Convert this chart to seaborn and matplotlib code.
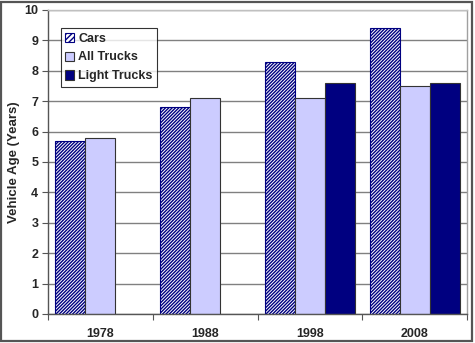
import matplotlib
matplotlib.use("Agg")
import matplotlib.pyplot as plt
from matplotlib.patches import Rectangle, Patch
import numpy as np
import pandas as pd
import seaborn as sns

years = ["1978", "1988", "1998", "2008"]
series = ["Cars", "All Trucks", "Light Trucks"]
cars = [5.7, 6.8, 8.3, 9.4]
all_trucks = [5.8, 7.1, 7.1, 7.5]
light_trucks = [np.nan, np.nan, 7.6, 7.6]
y_ticks = [0, 1, 2, 3, 4, 5, 6, 7, 8, 9, 10]

df = pd.DataFrame({
    "Year": years * 3,
    "Series": [s for s in series for _ in years],
    "Age": cars + all_trucks + light_trucks,
})

sns.set_style("white")
plt.rcParams["font.family"] = ["Liberation Sans", "DejaVu Sans"]
plt.rcParams["font.weight"] = "bold"
plt.rcParams["hatch.linewidth"] = 1.0

fig = plt.figure(figsize=(4.75, 3.43), dpi=100)
ax = fig.add_axes([48 / 475, 1 - 314 / 343, (467 - 48) / 475, (314 - 10) / 343])

face = {"Cars": "white", "All Trucks": "#CCCCFF", "Light Trucks": "#000080"}
sns.barplot(data=df, x="Year", y="Age", hue="Series", order=years,
            hue_order=series, palette=face, width=0.86, saturation=1,
            edgecolor="#333333", linewidth=0.8, legend=False, ax=ax)

# the first container holds the Cars bars: dense diagonal navy hatching
hatch = "/" * 10
for bar in ax.containers[0]:
    bar.set_hatch(hatch)
    try:
        bar.set_hatchcolor("#000080")
    except AttributeError:
        bar.set_edgecolor("#000080")

ax.set_ylim(0, 10)
ax.set_xlim(-0.5, 3.5)
ax.set_yticks(y_ticks)
ax.set_yticklabels([str(t) for t in y_ticks], fontsize=9, fontweight="bold")
ax.set_xticks(range(len(years)))
ax.set_xticklabels(years, fontsize=9, fontweight="bold")
ax.tick_params(axis="x", length=0, pad=10)
ax.tick_params(axis="y", length=4, width=0.8, color="#555555", direction="out",
               left=True, pad=3)
# minor ticks between the year groups
ax.set_xticks([-0.5, 0.5, 1.5, 2.5, 3.5], minor=True)
ax.tick_params(axis="x", which="minor", length=4, width=0.8, color="#555555",
               direction="out", bottom=True)

ax.set_axisbelow(True)
ax.yaxis.grid(True, color="#808080", linewidth=1.0)
ax.set_xlabel("")
ax.set_ylabel("Vehicle Age (Years)", fontsize=9.5, fontweight="bold", labelpad=3)

ax.spines["left"].set_color("#555555")
ax.spines["bottom"].set_color("#555555")
ax.spines["top"].set_color("#C0C0C0")
ax.spines["right"].set_color("#A0A0A0")
for s in ax.spines.values():
    s.set_linewidth(1.0)
    s.set_visible(True)

handles = [
    Patch(facecolor="white", edgecolor="#000080", hatch="//////", linewidth=0.8),
    Patch(facecolor="#CCCCFF", edgecolor="#333333", linewidth=0.8),
    Patch(facecolor="#000080", edgecolor="#333333", linewidth=0.8),
]
leg = ax.legend(handles, series, loc="upper left", bbox_to_anchor=(0.03, 0.94),
                frameon=True, fancybox=False, edgecolor="black",
                prop={"size": 9, "weight": "bold"}, handlelength=0.75,
                handleheight=0.75, handletextpad=0.3, borderpad=0.35,
                labelspacing=0.55, borderaxespad=0)
leg.get_frame().set_linewidth(0.8)

# outer frame around the whole chart
fig.patches.append(Rectangle((0.003, 0.005), 0.99, 0.99, transform=fig.transFigure,
                             fill=False, edgecolor="#555555", linewidth=1.6))

fig.savefig("out.png", dpi=100)
